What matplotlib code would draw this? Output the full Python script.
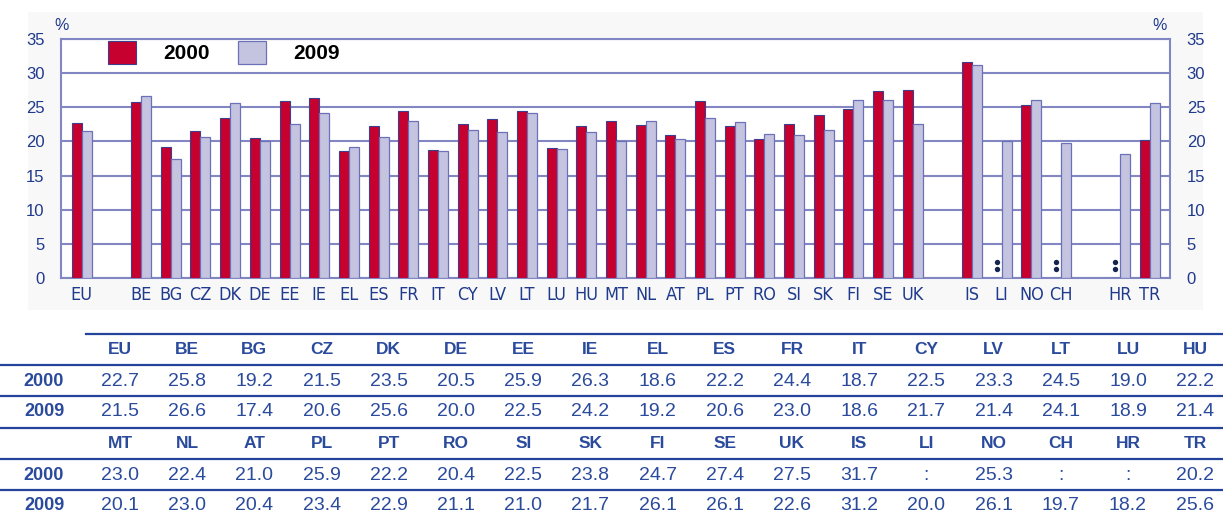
import matplotlib
matplotlib.use("Agg")
import matplotlib.pyplot as plt
import numpy as np
from matplotlib.patches import Patch, Rectangle
from matplotlib.lines import Line2D

# data (None = not available)
codes = ["EU", "BE", "BG", "CZ", "DK", "DE", "EE", "IE", "EL", "ES", "FR", "IT", "CY", "LV", "LT", "LU", "HU",
         "MT", "NL", "AT", "PL", "PT", "RO", "SI", "SK", "FI", "SE", "UK", "IS", "LI", "NO", "CH", "HR", "TR"]
v2000 = [22.7, 25.8, 19.2, 21.5, 23.5, 20.5, 25.9, 26.3, 18.6, 22.2, 24.4, 18.7, 22.5, 23.3, 24.5, 19.0, 22.2,
         23.0, 22.4, 21.0, 25.9, 22.2, 20.4, 22.5, 23.8, 24.7, 27.4, 27.5, 31.7, None, 25.3, None, None, 20.2]
v2009 = [21.5, 26.6, 17.4, 20.6, 25.6, 20.0, 22.5, 24.2, 19.2, 20.6, 23.0, 18.6, 21.7, 21.4, 24.1, 18.9, 21.4,
         20.1, 23.0, 20.4, 23.4, 22.9, 21.1, 21.0, 21.7, 26.1, 26.1, 22.6, 31.2, 20.0, 26.1, 19.7, 18.2, 25.6]
# chart groups (one empty slot between groups)
groups = [["EU"],
          ["BE", "BG", "CZ", "DK", "DE", "EE", "IE", "EL", "ES", "FR", "IT", "CY", "LV", "LT", "LU", "HU",
           "MT", "NL", "AT", "PL", "PT", "RO", "SI", "SK", "FI", "SE", "UK"],
          ["IS", "LI", "NO", "CH"],
          ["HR", "TR"]]
yticks = [0, 5, 10, 15, 20, 25, 30, 35]

RED = "#c6002f"
LAV = "#c4c4e1"
NAVY = "#1f3a8c"
GRID = "#8287c4"
TBL = "#2a4a9c"
LINE = "#23449a"

W, H = 1223, 515
plt.rcParams["font.family"] = ["Liberation Sans", "DejaVu Sans"]

fig = plt.figure(figsize=(W / 100, H / 100), dpi=100)
fx = lambda px: px / W
fy = lambda py: 1 - py / H

# light panel behind the chart
fig.patches.append(Rectangle((fx(28), fy(310)), fx(1203) - fx(28), fy(12) - fy(310),
                             transform=fig.transFigure, fc="#f8f8f9", ec="none", zorder=-5))

ax = fig.add_axes([fx(61), fy(278), fx(1170) - fx(61), fy(39) - fy(278)])
ax.set_facecolor("white")
ax.set_zorder(2)

pos = {}
x = 0
for g in groups:
    for c in g:
        pos[c] = x
        x += 1
    x += 1

bw = 0.337
a = np.array([v2000[codes.index(c)] if v2000[codes.index(c)] is not None else np.nan for c in pos])
b = np.array([v2009[codes.index(c)] for c in pos])
xs = np.array(list(pos.values()))
ax.bar(xs - bw / 2, np.nan_to_num(a), bw, color=RED, edgecolor="#3b3f8c", lw=0.8, zorder=3)
ax.bar(xs + bw / 2, b, bw, color=LAV, edgecolor="#6c70b8", lw=0.9, zorder=3)
for m in xs[np.isnan(a)]:
    ax.scatter([m - bw / 2] * 2, [1.3, 2.4], s=15, color="#15254f", zorder=4, lw=0)

ax.set_xlim(-0.70, xs.max() + 0.67)
ax.set_ylim(0, 35)
ax.set_yticks(yticks)
ax.yaxis.grid(True, color=GRID, lw=1.5, zorder=1)
ax.set_axisbelow(True)
for s in ax.spines.values():
    s.set_color(GRID)
    s.set_linewidth(1.5)
ax.set_xticks(xs)
ax.set_xticklabels(list(pos.keys()), fontsize=13, color=NAVY, family="DejaVu Sans", stretch="condensed")
ax.tick_params(axis="x", length=0, pad=6)
ax.tick_params(axis="y", length=0, pad=12, labelsize=12, labelcolor=NAVY,
               right=True, labelright=True)

fig.text(fx(62), fy(25), "%", ha="center", va="center", fontsize=11.5, color=NAVY)
fig.text(fx(1160), fy(25), "%", ha="center", va="center", fontsize=11.5, color=NAVY)

handles = [Patch(fc=RED, ec="#3b3f8c", lw=0.8, label="2000"),
           Patch(fc=LAV, ec="#6c70b8", lw=0.9, label="2009")]
leg = ax.legend(handles=handles, loc="upper left", bbox_to_anchor=((108 - 61) / 1109, 1 - 2 / 239),
                ncol=2, frameon=False, borderpad=0, borderaxespad=0,
                handlelength=1.35, handleheight=1.3, handletextpad=1.3, columnspacing=1.35,
                prop=dict(weight="bold", size=15))

# table under the chart
col0, step = 120, 67.2
rows_y = [(350, 381.5, 411.5), (444, 475, 505.5)]
half = len(codes) // 2
for r, (yh, y0, y9) in enumerate(rows_y):
    fig.text(fx(44), fy(y0), "2000", ha="center", va="center", fontsize=13, weight="bold", color=TBL)
    fig.text(fx(44), fy(y9), "2009", ha="center", va="center", fontsize=13, weight="bold", color=TBL)
    for i in range(half):
        k = r * half + i
        cx = fx(col0 + i * step)
        fig.text(cx, fy(yh), codes[k], ha="center", va="center", fontsize=12.5, weight="bold", color=TBL)
        s0 = ":" if v2000[k] is None else f"{v2000[k]:.1f}"
        fig.text(cx, fy(y0), s0, ha="center", va="center", fontsize=14, color=TBL)
        fig.text(cx, fy(y9), f"{v2009[k]:.1f}", ha="center", va="center", fontsize=14, color=TBL)

fig.lines.append(Line2D([fx(86), 1], [fy(334)] * 2, transform=fig.transFigure, color=LINE, lw=1.6))
for ly in [365, 396, 428, 459, 490]:
    fig.lines.append(Line2D([0, 1], [fy(ly)] * 2, transform=fig.transFigure, color=LINE, lw=1.6))

fig.savefig("out.png", dpi=100)
